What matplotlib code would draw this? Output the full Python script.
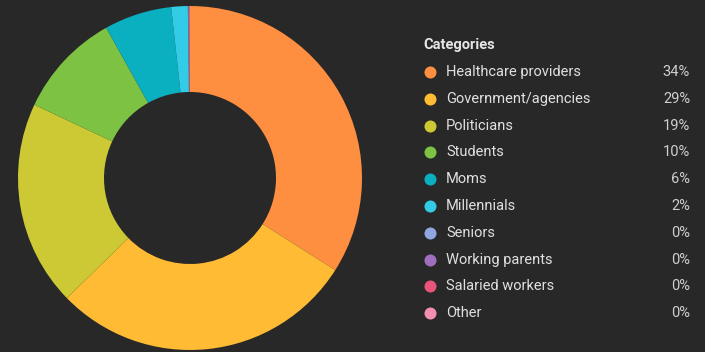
import matplotlib.pyplot as plt

# data
categories = ["Healthcare providers", "Government/agencies", "Politicians", "Students",
              "Moms", "Millennials", "Seniors", "Working parents", "Salaried workers", "Other"]
shares = [34.0, 28.7, 19.3, 9.9, 6.35, 1.55, 0.05, 0.05, 0.05, 0.05]
colors = ["#FF8F40", "#FFBB33", "#CDC934", "#7DC242", "#0AAFC0",
          "#33CCE6", "#8FA6E0", "#9F6FBF", "#E8557A", "#F48FB1"]

bg = "#282828"
plt.rcParams['font.family'] = ['Roboto', 'DejaVu Sans']

fig = plt.figure(figsize=(7.05, 3.52), dpi=100, facecolor=bg)

# donut
W, H = 705, 352
cx, cy, r = 190, 178, 172
ax = fig.add_axes([(cx - r) / W, (H - cy - r) / H, 2 * r / W, 2 * r / H])
ax.pie(shares, colors=colors, startangle=90, counterclock=False,
       wedgeprops=dict(width=0.5, linewidth=0))
ax.set_xlim(-1, 1)
ax.set_ylim(-1, 1)
ax.set_aspect('equal')
ax.axis('off')

# legend drawn by hand in pixel coords
lax = fig.add_axes([0, 0, 1, 1])
lax.set_xlim(0, W)
lax.set_ylim(H, 0)
lax.axis('off')
lax.patch.set_alpha(0)

lax.text(423, 45, "Categories", color="#E6E6E6", fontsize=10.5, fontweight='bold',
         va='center', ha='left')
total = sum(shares)
for i, (name, val, c) in enumerate(zip(categories, shares, colors)):
    y = 72 + i * 26.8
    lax.scatter([430], [y], s=75, color=c, linewidths=0)
    lax.text(446, y, name, color="#E0E0E0", fontsize=10.5, va='center', ha='left')
    lax.text(690, y, f"{round(val / total * 100):.0f}%", color="#CFCFCF", fontsize=10.5,
             va='center', ha='right')

fig.savefig("out.png", dpi=100, facecolor=bg)
